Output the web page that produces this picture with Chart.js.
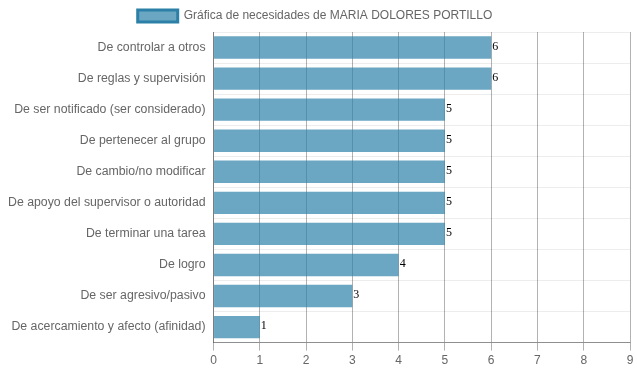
<!DOCTYPE html>
<html>
<head>
<meta charset="utf-8">
<script src="https://cdn.jsdelivr.net/npm/chart.js@4.4.0/dist/chart.umd.min.js"></script>
<style>
  html, body { margin: 0; padding: 0; background: #fff; }
  #wrap { width: 637px; height: 371px; }
</style>
</head>
<body>
<div id="wrap"><canvas id="myChart"></canvas></div>
<script>
var categories = ["De controlar a otros", "De reglas y supervisión",
  "De ser notificado (ser considerado)", "De pertenecer al grupo",
  "De cambio/no modificar", "De apoyo del supervisor o autoridad",
  "De terminar una tarea", "De logro", "De ser agresivo/pasivo",
  "De acercamiento y afecto (afinidad)"];
var valores = [6, 6, 5, 5, 5, 5, 5, 4, 3, 1];
var serie = "Gráfica de necesidades de MARIA DOLORES PORTILLO";

Chart.defaults.font.family = "'Liberation Sans', Arial, sans-serif";
Chart.defaults.font.size = 12;
Chart.defaults.color = "#666";

// write the value at the end of each bar
var valueLabels = {
  id: 'valueLabels',
  afterDatasetsDraw: function(chart) {
    var ctx = chart.ctx;
    ctx.save();
    ctx.font = "12px 'Liberation Serif', 'Times New Roman', serif";
    ctx.fillStyle = "#000";
    ctx.textAlign = "left";
    ctx.textBaseline = "middle";
    chart.getDatasetMeta(0).data.forEach(function(bar, i) {
      ctx.fillText(valores[i], bar.x + 1, bar.y - 1);
    });
    ctx.restore();
  }
};

var ctx = document.getElementById('myChart').getContext('2d');
var myChart = new Chart(ctx, {
  type: 'bar',
  data: {
    labels: categories,
    datasets: [{
      label: serie,
      data: valores,
      backgroundColor: "rgba(44,128,168,0.7)",
      borderColor: "rgba(44,128,168,1)",
      borderWidth: 0,
      barPercentage: 0.72,
      categoryPercentage: 1
    }]
  },
  options: {
    indexAxis: 'y',
    responsive: true,
    maintainAspectRatio: false,
    animation: false,
    layout: { padding: { left: 0, right: 7, top: 0, bottom: 0 } },
    plugins: {
      legend: {
        labels: {
          boxWidth: 40,
          boxHeight: 12,
          color: "#666",
          generateLabels: function(chart) {
            return [{
              text: serie,
              fillStyle: "rgba(44,128,168,0.7)",
              strokeStyle: "rgba(44,128,168,1)",
              fontColor: "#666",
              lineWidth: 3,
              datasetIndex: 0
            }];
          }
        }
      },
      tooltip: { enabled: false }
    },
    scales: {
      x: {
        min: 0,
        max: 9,
        ticks: { stepSize: 1, color: "#666" },
        grid: { color: "rgba(0,0,0,0.3)", drawTicks: true },
        border: { color: "rgba(0,0,0,0.4)" }
      },
      y: {
        ticks: { color: "#666", padding: 8, font: { size: 12.3 } },
        grid: { color: "rgba(0,0,0,0.07)", offset: true, drawTicks: false },
        border: { color: "rgba(0,0,0,0.3)" }
      }
    }
  },
  plugins: [valueLabels]
});
</script>
</body>
</html>
